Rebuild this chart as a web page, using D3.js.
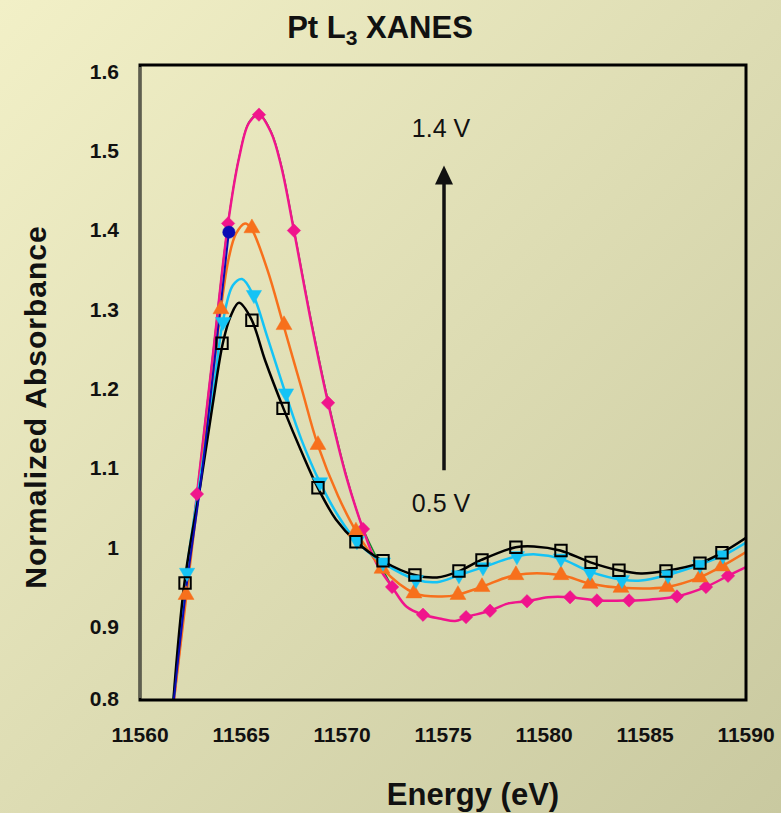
<!DOCTYPE html>
<html>
<head>
<meta charset="utf-8">
<script src="https://cdn.jsdelivr.net/npm/d3@7"></script>
<style>
  body { margin: 0; }
  text { font-family: "Liberation Sans", Arial, sans-serif; fill: #111; }
</style>
</head>
<body>
<div id="chart"></div>
<script>
var w = 781;
var h = 813;

// tick labels
var xTicks = [11560, 11565, 11570, 11575, 11580, 11585, 11590];
var yTicks = [0.8, 0.9, 1, 1.1, 1.2, 1.3, 1.4, 1.5, 1.6];

// line points [energy, absorbance]
var blackLine = [[11561.6, 0.79], [11562.2, 0.955], [11563.0, 1.08], [11563.6, 1.18], [11564.1, 1.257],
    [11564.5, 1.292], [11564.9, 1.308], [11565.5, 1.288], [11566.2, 1.235], [11567.1, 1.175],
    [11568.0, 1.12], [11568.8, 1.075], [11569.7, 1.035], [11570.7, 1.007], [11572.0, 0.983],
    [11573.6, 0.965], [11574.7, 0.962], [11575.8, 0.970], [11576.9, 0.984], [11578.6, 1.000],
    [11579.5, 1.001], [11580.8, 0.996], [11582.3, 0.981], [11583.7, 0.971], [11584.8, 0.967],
    [11586.0, 0.970], [11587.7, 0.980], [11588.8, 0.993], [11590, 1.012]];
var cyanLine = [[11561.6, 0.79], [11562.3, 0.968], [11563.0, 1.09], [11563.6, 1.19], [11564.1, 1.284],
    [11564.6, 1.330], [11565.05, 1.338], [11565.6, 1.318], [11566.3, 1.265], [11567.2, 1.194],
    [11568.0, 1.135], [11568.9, 1.082], [11569.8, 1.04], [11570.7, 1.008], [11572.0, 0.981],
    [11573.7, 0.959], [11574.7, 0.956], [11575.8, 0.965], [11577.0, 0.975], [11578.7, 0.989],
    [11579.6, 0.991], [11580.8, 0.986], [11582.3, 0.969], [11583.9, 0.959], [11584.8, 0.958],
    [11586.1, 0.965], [11587.7, 0.978], [11588.9, 0.990], [11590, 1.006]];
var orangeLine = [[11561.6, 0.79], [11562.3, 0.940], [11563.0, 1.09], [11563.5, 1.19], [11564.0, 1.30],
    [11564.4, 1.365], [11564.75, 1.395], [11565.2, 1.408], [11565.5, 1.402], [11566.3, 1.35],
    [11567.1, 1.280], [11568.0, 1.20], [11568.8, 1.129], [11569.8, 1.065], [11570.7, 1.020],
    [11572.0, 0.973], [11573.6, 0.942], [11574.9, 0.938], [11575.7, 0.940], [11576.9, 0.950],
    [11578.6, 0.965], [11580.8, 0.965], [11582.3, 0.954], [11583.8, 0.949], [11586.1, 0.950],
    [11587.7, 0.962], [11588.8, 0.976], [11590, 0.994]];
var pinkLine = [[11561.6, 0.79], [11562.82, 1.067], [11563.6, 1.24], [11564.36, 1.408], [11564.9, 1.49],
    [11565.4, 1.535], [11565.89, 1.545], [11566.5, 1.522], [11567.0, 1.479], [11567.62, 1.399],
    [11568.5, 1.28], [11569.31, 1.182], [11570.2, 1.09], [11571.04, 1.023], [11571.7, 0.98],
    [11572.48, 0.950], [11573.2, 0.925], [11574.01, 0.915], [11574.9, 0.910], [11575.6, 0.907],
    [11576.14, 0.912], [11577.33, 0.920], [11578.2, 0.929], [11579.16, 0.932], [11580.2, 0.937],
    [11581.29, 0.937], [11582.62, 0.933], [11584.21, 0.933], [11585.2, 0.934], [11586.58, 0.938],
    [11588.02, 0.950], [11589.11, 0.964], [11590, 0.975]];
var greenLine = [[11561.6, 0.79], [11562.82, 1.068], [11563.6, 1.242], [11564.36, 1.409], [11564.9, 1.491],
    [11565.4, 1.536], [11565.89, 1.546], [11566.5, 1.523], [11567.0, 1.481], [11567.62, 1.401],
    [11568.5, 1.283], [11569.31, 1.185], [11570.2, 1.092], [11571.04, 1.024], [11572.48, 0.950]];
var blueLine = [[11561.6, 0.79], [11562.3, 0.95], [11563.0, 1.08], [11563.6, 1.215], [11564.4, 1.397]];

// marker points
var blackMarks = [[11562.23, 0.955], [11564.06, 1.257], [11565.54, 1.286], [11567.08, 1.175],
    [11568.81, 1.075], [11570.69, 1.007], [11572.03, 0.983], [11573.61, 0.965], [11575.79, 0.970],
    [11576.93, 0.984], [11578.61, 1.000], [11580.84, 0.996], [11582.33, 0.981], [11583.71, 0.971],
    [11586.04, 0.970], [11587.72, 0.980], [11588.81, 0.993]];
var cyanMarks = [[11562.33, 0.968], [11564.11, 1.284], [11565.64, 1.318], [11567.23, 1.194],
    [11568.91, 1.082], [11570.74, 1.008], [11572.03, 0.981], [11573.66, 0.959], [11575.79, 0.965],
    [11576.98, 0.975], [11578.66, 0.989], [11580.84, 0.986], [11582.28, 0.969], [11583.86, 0.959],
    [11586.14, 0.965], [11587.72, 0.978], [11588.86, 0.990]];
var orangeMarks = [[11562.28, 0.940], [11564.01, 1.300], [11565.54, 1.402], [11567.13, 1.280],
    [11568.81, 1.129], [11570.69, 1.020], [11571.98, 0.973], [11573.56, 0.942], [11575.74, 0.940],
    [11576.93, 0.950], [11578.61, 0.965], [11580.84, 0.965], [11582.28, 0.954], [11583.81, 0.949],
    [11586.09, 0.950], [11587.72, 0.962], [11588.81, 0.976]];
var pinkMarks = [[11562.82, 1.067], [11564.36, 1.408], [11565.89, 1.545], [11567.62, 1.399],
    [11569.31, 1.182], [11571.04, 1.023], [11572.48, 0.950], [11574.01, 0.915], [11576.14, 0.912],
    [11577.33, 0.920], [11579.16, 0.932], [11581.29, 0.937], [11582.62, 0.933], [11584.21, 0.933],
    [11586.58, 0.938], [11588.02, 0.950], [11589.11, 0.964]];
var blueMarks = [[11564.4, 1.397]];

var svg = d3.select("#chart").append("svg").attr("width", w).attr("height", h);

// background gradient
var grad = svg.append("defs").append("linearGradient")
    .attr("id", "bg").attr("x1", 0).attr("y1", 0).attr("x2", 1).attr("y2", 1);
grad.append("stop").attr("offset", "0%").attr("stop-color", "#f2f0c7");
grad.append("stop").attr("offset", "100%").attr("stop-color", "#c9c9a0");
svg.append("rect").attr("width", w).attr("height", h).attr("fill", "url(#bg)");

var plotTop = 65, plotBottom = 700;

var xScale = d3.scaleLinear().domain([11560, 11590]).range([140, 746]);
var yScale = d3.scaleLinear().domain([0.8, 1.6]).range([706, 71]);

svg.select("defs").append("clipPath").attr("id", "clip")
    .append("rect")
    .attr("x", xScale(11560)).attr("y", plotTop)
    .attr("width", xScale(11590) - xScale(11560)).attr("height", plotBottom - plotTop);

// ****** lines ******
var line = d3.line()
    .x(function (d) { return xScale(d[0]); })
    .y(function (d) { return yScale(d[1]); })
    .curve(d3.curveCatmullRom.alpha(0.5));

// rot: extra rotation of the symbol (diamond = square turned 45deg, down triangle = 180deg)
var series = [
    { line: greenLine, marks: [], color: "#138a2a", width: 1.5, shape: null },
    { line: pinkLine, marks: pinkMarks, color: "#f0148c", width: 2.5, shape: d3.symbolSquare, rot: 45, size: 90 },
    { line: orangeLine, marks: orangeMarks, color: "#f7701c", width: 2.5, shape: d3.symbolTriangle, rot: 0, size: 110 },
    { line: cyanLine, marks: cyanMarks, color: "#14c3f5", width: 2.5, shape: d3.symbolTriangle, rot: 180, size: 100 },
    { line: blackLine, marks: blackMarks, color: "#000000", width: 2.5, shape: d3.symbolSquare, rot: 0, size: 130, open: true },
    { line: blueLine, marks: blueMarks, color: "#0a0ab4", width: 2, shape: d3.symbolCircle, rot: 0, size: 120 }
];

var plot = svg.append("g").attr("clip-path", "url(#clip)");

series.forEach(function (s) {
    plot.append("path")
        .datum(s.line)
        .attr("fill", "none")
        .attr("stroke", s.color)
        .attr("stroke-width", s.width)
        .attr("d", line);
});

series.forEach(function (s) {
    if (!s.shape) return;
    plot.append("g").selectAll("path")
        .data(s.marks)
        .enter().append("path")
        .attr("transform", function (d) {
            return "translate(" + xScale(d[0]) + "," + yScale(d[1]) + ") rotate(" + s.rot + ")";
        })
        .attr("d", d3.symbol().type(s.shape).size(s.size)())
        .attr("fill", s.open ? "none" : s.color)
        .attr("stroke", s.color)
        .attr("stroke-width", s.open ? 2 : 0.5);
});

// ****** frame ******
svg.append("rect")
    .attr("x", xScale(11560)).attr("y", plotTop)
    .attr("width", xScale(11590) - xScale(11560)).attr("height", plotBottom - plotTop)
    .attr("fill", "none").attr("stroke", "#000").attr("stroke-width", 3);
svg.append("line")
    .attr("x1", xScale(11560)).attr("x2", xScale(11560))
    .attr("y1", plotTop + 2).attr("y2", plotBottom - 2)
    .attr("stroke", "#5e5e50").attr("stroke-width", 2);

// ****** tick labels ******
svg.selectAll(".xlab")
    .data(xTicks)
    .enter().append("text")
    .attr("x", function (d) { return xScale(d); })
    .attr("y", 742)
    .attr("text-anchor", "middle")
    .style("font-size", "21px").style("font-weight", "bold")
    .text(function (d) { return d; });

svg.selectAll(".ylab")
    .data(yTicks)
    .enter().append("text")
    .attr("x", 119)
    .attr("y", function (d) { return Math.min(yScale(d), 698); })
    .attr("dy", "0.36em")
    .attr("text-anchor", "end")
    .style("font-size", "21px").style("font-weight", "bold")
    .text(function (d) { return d; });

// ****** titles ******
var title = svg.append("text")
    .attr("x", 380).attr("y", 38)
    .attr("text-anchor", "middle")
    .style("font-size", "31px").style("font-weight", "bold");
title.append("tspan").text("Pt L");
title.append("tspan").attr("dy", 7).style("font-size", "21px").text("3");
title.append("tspan").attr("dy", -7).text(" XANES");

svg.append("text")
    .attr("x", 473).attr("y", 805)
    .attr("text-anchor", "middle")
    .style("font-size", "31px").style("font-weight", "bold")
    .text("Energy (eV)");

svg.append("text")
    .attr("transform", "translate(46,407) rotate(-90)")
    .attr("text-anchor", "middle")
    .style("font-size", "30px").style("font-weight", "bold")
    .style("letter-spacing", "1px")
    .text("Normalized Absorbance");

// ****** arrow annotation ******
var arrowX = xScale(11575.05);
svg.append("line")
    .attr("x1", arrowX).attr("x2", arrowX)
    .attr("y1", yScale(1.097)).attr("y2", yScale(1.462))
    .attr("stroke", "#111").attr("stroke-width", 3.5);
svg.append("path")
    .attr("d", "M" + arrowX + "," + yScale(1.481) + " L" + (arrowX - 9) + "," + (yScale(1.481) + 19) +
        " L" + (arrowX + 9) + "," + (yScale(1.481) + 19) + " Z")
    .attr("fill", "#111");

svg.append("text")
    .attr("x", 441).attr("y", 137)
    .attr("text-anchor", "middle")
    .style("font-size", "25px")
    .text("1.4 V");
svg.append("text")
    .attr("x", 441).attr("y", 512)
    .attr("text-anchor", "middle")
    .style("font-size", "25px")
    .text("0.5 V");
</script>
</body>
</html>
